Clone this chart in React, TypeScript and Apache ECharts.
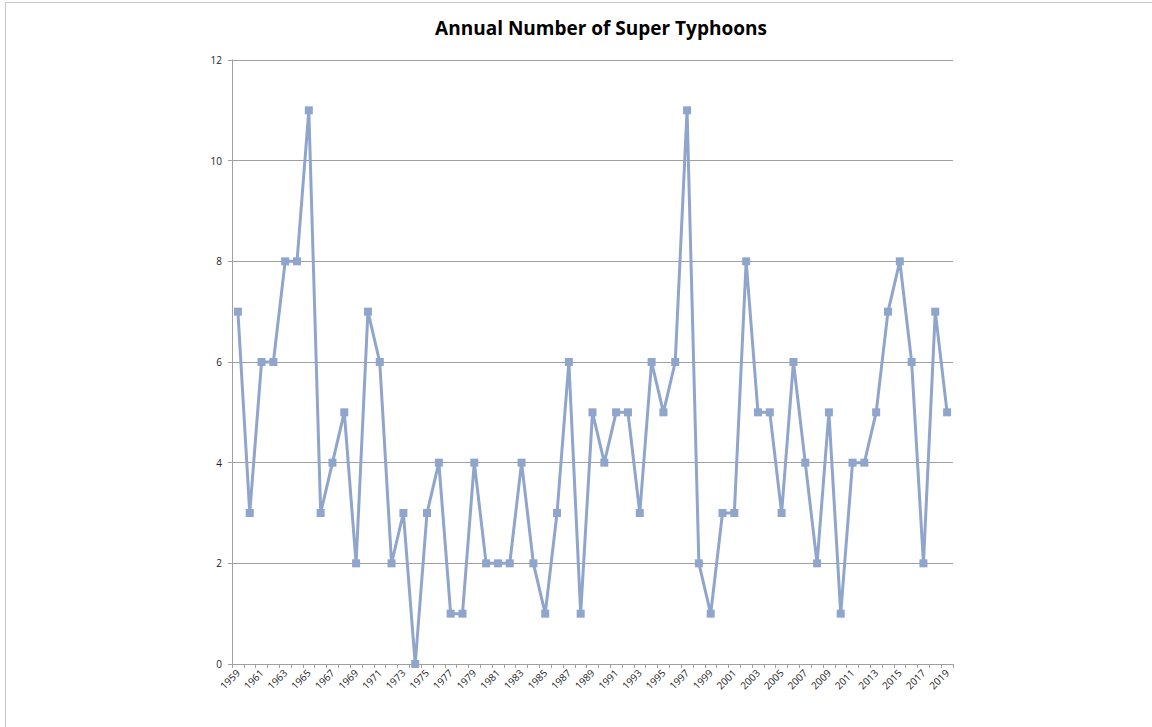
import React, { useEffect, useRef } from "react";
import * as echarts from "echarts";

const years: string[] = [
  "1959","1960","1961","1962","1963","1964","1965","1966","1967","1968",
  "1969","1970","1971","1972","1973","1974","1975","1976","1977","1978",
  "1979","1980","1981","1982","1983","1984","1985","1986","1987","1988",
  "1989","1990","1991","1992","1993","1994","1995","1996","1997","1998",
  "1999","2000","2001","2002","2003","2004","2005","2006","2007","2008",
  "2009","2010","2011","2012","2013","2014","2015","2016","2017","2018","2019",
];

const superTyphoons: number[] = [
  7, 3, 6, 6, 8, 8, 11, 3, 4, 5,
  2, 7, 6, 2, 3, 0, 3, 4, 1, 1,
  4, 2, 2, 2, 4, 2, 1, 3, 6, 1,
  5, 4, 5, 5, 3, 6, 5, 6, 11, 2,
  1, 3, 3, 8, 5, 5, 3, 6, 4, 2,
  5, 1, 4, 4, 5, 7, 8, 6, 2, 7, 5,
];

const titleText = "Annual Number of Super Typhoons";

export default function App() {
  const ref = useRef<HTMLDivElement>(null);
  useEffect(() => {
    if (!ref.current) return;
    const chart = echarts.init(ref.current, undefined, { renderer: "svg" });
    chart.setOption({
      animation: false,
      backgroundColor: "#ffffff",
      title: {
        text: titleText,
        left: 596,
        textAlign: "center",
        top: 13,
        textStyle: {
          fontFamily: "Open Sans",
          fontWeight: "bold",
          fontSize: 19,
          color: "#000000",
        },
      },
      graphic: [
        {
          type: "line",
          shape: { x1: 5.5, y1: 2.5, x2: 1152, y2: 2.5 },
          style: { stroke: "#c8c8c8", lineWidth: 1 },
        },
        {
          type: "line",
          shape: { x1: 5.5, y1: 2.5, x2: 5.5, y2: 727 },
          style: { stroke: "#c8c8c8", lineWidth: 1 },
        },
      ],
      grid: { left: 232, top: 60, width: 721, height: 604 },
      xAxis: {
        type: "category",
        data: years,
        boundaryGap: true,
        axisLine: { lineStyle: { color: "#a0a0a0", width: 1 } },
        axisTick: { show: true, interval: 0, length: 4, lineStyle: { color: "#a0a0a0" } },
        axisLabel: {
          interval: 1,
          rotate: 45,
          fontSize: 10,
          color: "#222222",
          fontFamily: "Open Sans",
          margin: 7,
        },
        splitLine: { show: false },
      },
      yAxis: {
        type: "value",
        min: 0,
        max: 12,
        interval: 2,
        axisLine: { show: true, lineStyle: { color: "#a0a0a0", width: 1 } },
        axisTick: { show: true, length: 4, lineStyle: { color: "#a0a0a0" } },
        axisLabel: {
          fontSize: 10,
          color: "#222222",
          fontFamily: "Open Sans",
          margin: 10,
        },
        splitLine: { show: true, lineStyle: { color: "#a0a0a0", width: 1 } },
      },
      series: [
        {
          type: "line",
          data: superTyphoons,
          symbol: "rect",
          symbolSize: 8,
          showAllSymbol: true,
          lineStyle: { color: "#8fa5cc", width: 3 },
          itemStyle: { color: "#8fa5cc" },
        },
      ],
    });
    return () => chart.dispose();
  }, []);
  return (
    <div
      ref={ref}
      style={{ position: "absolute", left: 0, top: 0, width: 1152, height: 727 }}
    />
  );
}
